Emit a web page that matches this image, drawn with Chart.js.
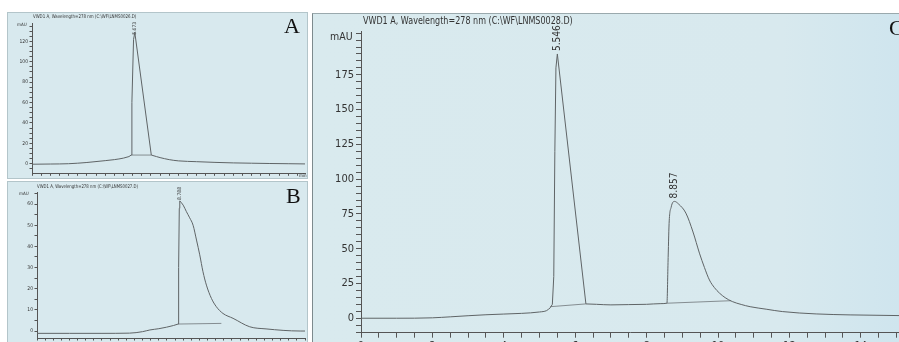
<!DOCTYPE html>
<html>
<head>
<meta charset="utf-8">
<script src="https://cdn.jsdelivr.net/npm/chart.js@4.4.1/dist/chart.umd.min.js"></script>
<style>
html, body { margin: 0; padding: 0; background: #fff; width: 899px; height: 342px; overflow: hidden; }
.panel { position: absolute; background: #d8e9ee; overflow: hidden; }
.panel canvas { position: absolute; left: 0; top: 0; }
.txt { position: absolute; white-space: nowrap; color: #333; font-family: 'Liberation Sans Narrow', 'DejaVu Sans Condensed', 'Liberation Sans', sans-serif; line-height: 1; transform-origin: 0 0; }
.letter { position: absolute; font-family: 'Liberation Serif', 'DejaVu Serif', serif; color: #111; line-height: 1; }
</style>
</head>
<body>

<div class="panel" id="panelA" style="left:8px; top:13px; width:299px; height:165px; outline:1px solid #b3c5ca;">
  <canvas id="chartA" width="299" height="175"></canvas>
</div>
<div class="panel" id="panelB" style="left:8px; top:182px; width:299px; height:170px; outline:1px solid #b3c5ca;">
  <canvas id="chartB" width="299" height="180"></canvas>
</div>
<div class="panel" id="panelC" style="left:312px; top:13px; width:587px; height:329px; border-top:1px solid #9aa9ad; border-left:1px solid #7d8a8d; background:linear-gradient(90deg,#d9eaee 0%,#d8e9ee 80%,#cfe5ee 100%);">
  <canvas id="chartC" width="587" height="345" style="top:-1px; left:-1px;"></canvas>
</div>

<div class="txt" style="left:33px; top:14px; font-size:5px; transform:scaleX(0.88);">VWD1 A, Wavelength=278 nm (C:\WF\LNMS0026.D)</div>
<div class="txt" style="left:17px; top:23px; font-size:4.5px;">mAU</div>
<div class="txt" style="left:299px; top:174px; font-size:4.5px;">min</div>
<div class="letter" style="left:284px; top:15px; font-size:22px;">A</div>

<div class="txt" style="left:37px; top:184px; font-size:5px; transform:scaleX(0.86);">VWD1 A, Wavelength=278 nm (C:\WF\LNMS0027.D)</div>
<div class="txt" style="left:19px; top:192px; font-size:4.5px;">mAU</div>
<div class="letter" style="left:286px; top:185px; font-size:22px;">B</div>

<div class="txt" style="left:363px; top:15px; font-size:10.5px; transform:scaleX(0.85);">VWD1 A, Wavelength=278 nm (C:\WF\LNMS0028.D)</div>
<div class="txt" style="left:330px; top:31px; font-size:10.5px;">mAU</div>
<div class="letter" style="left:889px; top:17px; font-size:22px;">C</div>

<script>
// ---- panel A (LNMS0026) ----
const timeA   = [0, 1, 2, 3, 4, 4.5, 5, 5.3, 5.42, 5.46, 5.55, 5.62, 6.52, 6.8, 7, 7.5, 8, 9, 10, 11, 12, 13, 14, 14.92];
const signalA = [-0.5, -0.3, 0, 1.2, 3, 4, 5.5, 7, 8.5, 60, 122, 128.5, 8.5, 7, 6, 4, 2.8, 2, 1.3, 0.8, 0.5, 0.2, 0, -0.2];
const sharpA      = [5.3, 6.52];   // drawn with straight segments
const baseTimeA   = [5.44, 6.52];
const baseSignalA = [8.5, 8.5];
const peakTimeA   = [5.62];
const peakHeightA = [128.5];
const peakTextA   = ['5.673'];

// ---- panel B (LNMS0027) ----
const timeB   = [0, 2, 4, 5.7, 6.5, 6.95, 7.5, 7.97, 8.4, 8.69, 8.72, 8.76, 8.79, 9.0, 9.2, 9.4, 9.61, 9.82, 10.02, 10.22, 10.43, 10.74, 11.04, 11.45, 12.07, 13.1, 14.1, 16.2, 16.5];
const signalB = [-1.1, -1.1, -1.1, -1, -0.3, 0.5, 1.1, 1.8, 2.6, 3.3, 30, 58, 61.5, 59.5, 56.4, 53.5, 50, 43, 36, 28, 21.7, 15.4, 11.5, 8.3, 6, 2, 1, 0, 0];
const sharpB      = [8.69, 8.79];
const baseTimeB   = [8.69, 11.35];
const baseSignalB = [3.3, 3.6];
const peakTimeB   = [8.79];
const peakHeightB = [61.5];
const peakTextB   = ['8.788'];

// ---- panel C (LNMS0028) ----
const timeC   = [0, 1, 2, 2.5, 3, 3.5, 4, 4.5, 5, 5.2, 5.3, 5.36, 5.4, 5.43, 5.46, 5.5, 6.3, 6.6, 7, 7.5, 8, 8.4, 8.57, 8.6, 8.63, 8.69, 8.78, 8.9, 9.1, 9.3, 9.48, 9.62, 9.76, 9.9, 10.04, 10.2, 10.4, 10.65, 10.9, 11.35, 11.8, 12.75, 13.7, 15.07];
const signalC = [0, 0, 0.3, 1, 1.8, 2.5, 3, 3.5, 4.5, 5.5, 7.5, 10, 30, 120, 180, 190, 10.3, 10, 9.6, 9.8, 10, 10.5, 10.8, 40, 68, 80, 84, 82, 75.6, 62, 46.8, 36.5, 27.5, 22, 18.1, 14.8, 12, 9.9, 8.3, 6.5, 4.8, 3.1, 2.4, 1.9];
const sharpC      = [5.3, 6.3];
const baseTimeC   = [5.3, 6.3, null, 8.57, 10.36];
const baseSignalC = [8.3, 10.3, null, 10.8, 12.6];
const peakTimeC   = [5.5, 8.78];
const peakHeightC = [190, 84];
const peakTextC   = ['5.546', '8.857'];

const FONT = "'Liberation Sans Narrow', 'DejaVu Sans Condensed', 'Liberation Sans', sans-serif";

function toPoints(xs, ys) {
    return xs.map((x, i) => ({ x: x, y: ys[i] }));
}

// split the trace in three pieces: smooth before, straight peak, smooth after
function splitTrace(xs, ys, sharp) {
    const pts = toPoints(xs, ys);
    return [
        { pts: pts.filter(p => p.x <= sharp[0]), straight: false },
        { pts: pts.filter(p => p.x >= sharp[0] && p.x <= sharp[1]), straight: true },
        { pts: pts.filter(p => p.x >= sharp[1]), straight: false }
    ];
}

function stepTicks(from, to, step) {
    const out = [];
    for (let v = from; v <= to + 1e-9; v += step) out.push({ value: Math.round(v * 100) / 100 });
    return out;
}

// rotated retention-time labels above each peak
const peakLabels = {
    id: 'peakLabels',
    afterDatasetsDraw(chart, args, opts) {
        const ctx = chart.ctx;
        const x = chart.scales.x, y = chart.scales.y;
        ctx.save();
        ctx.font = opts.size + 'px ' + FONT;
        ctx.fillStyle = '#333';
        ctx.textAlign = 'left';
        ctx.textBaseline = 'middle';
        opts.times.forEach((t, i) => {
            ctx.save();
            ctx.translate(x.getPixelForValue(t), y.getPixelForValue(opts.heights[i]) - opts.gap);
            ctx.rotate(-Math.PI / 2);
            ctx.fillText(opts.texts[i], 0, 0);
            ctx.restore();
        });
        ctx.restore();
    }
};

function makeChart(id, s) {
    const ctx = document.getElementById(id).getContext('2d');
    const axisColor = '#555';
    const traceSets = splitTrace(s.time, s.signal, s.sharp).map(p => ({
        data: p.pts,
        borderColor: '#5f6466',
        borderWidth: 1,
        pointRadius: 0,
        tension: 0,
        cubicInterpolationMode: p.straight ? 'default' : 'monotone'
    }));
    return new Chart(ctx, {
        type: 'line',
        data: {
            datasets: traceSets.concat([
                { data: toPoints(s.baseTime, s.baseSignal), borderColor: '#6f7578', borderWidth: 0.8, pointRadius: 0, tension: 0, spanGaps: false }
            ])
        },
        options: {
            responsive: false,
            animation: false,
            events: [],
            layout: { padding: { left: 0, right: s.padRight, top: s.padTop, bottom: 0 } },
            plugins: {
                legend: { display: false },
                tooltip: { enabled: false },
                title: { display: false },
                peakLabels: { times: s.peakTime, heights: s.peakHeight, texts: s.peakText, size: s.peakSize, gap: s.peakGap }
            },
            scales: {
                x: {
                    type: 'linear',
                    min: 0,
                    max: s.xMax,
                    afterFit: sc => { sc.height = s.xHeight; },
                    afterBuildTicks: sc => { sc.ticks = stepTicks(0, s.xMax, 0.5); },
                    grid: { drawOnChartArea: false, drawTicks: true, tickLength: s.tickLen, color: axisColor },
                    border: { display: true, color: axisColor, width: 1 },
                    ticks: {
                        autoSkip: false, maxRotation: 0, padding: s.tickPad,
                        color: '#333', font: { family: FONT, size: s.fontSize },
                        callback: v => (v % 2 === 0 && v <= 14) ? v : ''
                    }
                },
                y: {
                    type: 'linear',
                    min: s.yMin,
                    max: s.yMax,
                    afterFit: sc => { sc.width = s.yWidth; },
                    afterBuildTicks: sc => { sc.ticks = stepTicks(s.yTickFrom, s.yMax, s.yMinor); },
                    grid: { drawOnChartArea: false, drawTicks: true, tickLength: s.tickLen, color: axisColor },
                    border: { display: true, color: axisColor, width: 1 },
                    ticks: {
                        autoSkip: false, padding: s.tickPad,
                        color: '#333', font: { family: FONT, size: s.fontSize },
                        callback: v => (v % s.yMajor === 0 && v >= 0 && v <= s.yTop) ? v : ''
                    }
                }
            }
        },
        plugins: [peakLabels]
    });
}

makeChart('chartA', {
    time: timeA, signal: signalA, sharp: sharpA, baseTime: baseTimeA, baseSignal: baseSignalA,
    peakTime: peakTimeA, peakHeight: peakHeightA, peakText: peakTextA, peakSize: 5, peakGap: -2,
    xMax: 14.92, yMin: -9.4, yMax: 138, yTickFrom: -5, yMinor: 5, yMajor: 20, yTop: 120,
    yWidth: 24, xHeight: 14.7, padTop: 10, padRight: 2, tickLen: 2.5, tickPad: 1.5, fontSize: 5
});

makeChart('chartB', {
    time: timeB, signal: signalB, sharp: sharpB, baseTime: baseTimeB, baseSignal: baseSignalB,
    peakTime: peakTimeB, peakHeight: peakHeightB, peakText: peakTextB, peakSize: 5, peakGap: 1,
    xMax: 16.5, yMin: -3.3, yMax: 65.7, yTickFrom: 0, yMinor: 5, yMajor: 10, yTop: 60,
    yWidth: 29, xHeight: 24, padTop: 10, padRight: 2, tickLen: 2.5, tickPad: 1.5, fontSize: 5
});

makeChart('chartC', {
    time: timeC, signal: signalC, sharp: sharpC, baseTime: baseTimeC, baseSignal: baseSignalC,
    peakTime: peakTimeC, peakHeight: peakHeightC, peakText: peakTextC, peakSize: 10, peakGap: 3,
    xMax: 15.07, yMin: -10.4, yMax: 206, yTickFrom: -10, yMinor: 5, yMajor: 25, yTop: 175,
    yWidth: 49, xHeight: 25.3, padTop: 18.7, padRight: 0, tickLen: 5, tickPad: 2, fontSize: 11
});
</script>
</body>
</html>
